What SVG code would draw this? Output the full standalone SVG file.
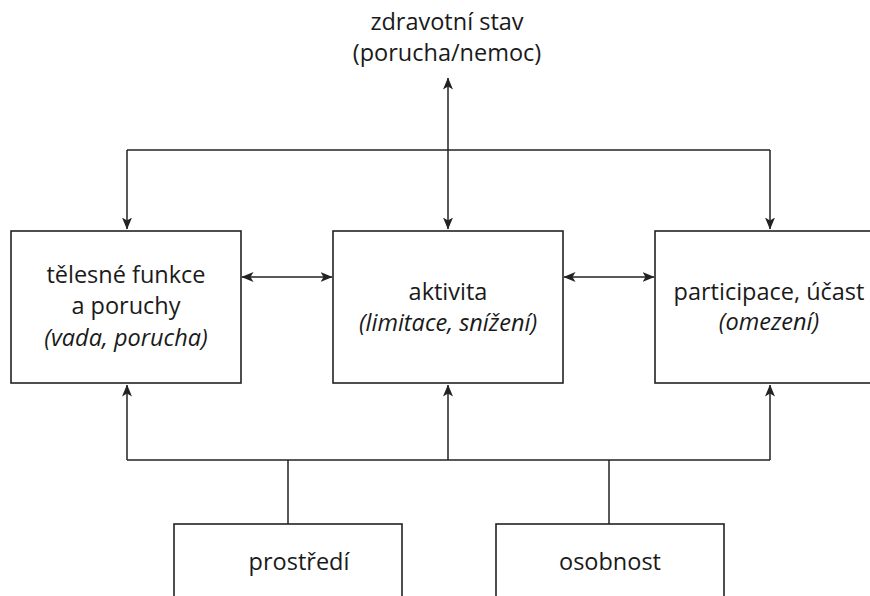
<svg xmlns="http://www.w3.org/2000/svg" width="870" height="596" viewBox="0 0 870 596">
<style>
.box{fill:#fff;stroke:#222;stroke-width:1.6}
.ln{fill:none;stroke:#222;stroke-width:1.5}
text{font-family:"Open Sans","DejaVu Sans",sans-serif;font-size:23.5px;fill:#1a1a1a;text-anchor:middle}
.it{font-style:italic}
</style>
<defs>
<marker id="ah" viewBox="0 0 12 10" refX="11.5" refY="5" markerWidth="12" markerHeight="10" markerUnits="userSpaceOnUse" orient="auto-start-reverse">
<path d="M0,0 L12,5 L0,10 L3,5 Z" fill="#222"/>
</marker>
</defs>
<rect width="870" height="596" fill="#fff"/>
<g id="connectors">
<line class="ln" x1="127" y1="150" x2="770" y2="150"/>
<line class="ln" x1="127" y1="150" x2="127" y2="229" marker-end="url(#ah)"/>
<line class="ln" x1="770" y1="150" x2="770" y2="229" marker-end="url(#ah)"/>
<line class="ln" x1="448" y1="78" x2="448" y2="229" marker-start="url(#ah)" marker-end="url(#ah)"/>
<line class="ln" x1="242" y1="277" x2="332" y2="277" marker-start="url(#ah)" marker-end="url(#ah)"/>
<line class="ln" x1="564" y1="277" x2="654" y2="277" marker-start="url(#ah)" marker-end="url(#ah)"/>
<line class="ln" x1="127" y1="460" x2="770" y2="460"/>
<line class="ln" x1="127" y1="460" x2="127" y2="385" marker-end="url(#ah)"/>
<line class="ln" x1="448" y1="460" x2="448" y2="385" marker-end="url(#ah)"/>
<line class="ln" x1="770" y1="460" x2="770" y2="385" marker-end="url(#ah)"/>
<line class="ln" x1="288" y1="460" x2="288" y2="524"/>
<line class="ln" x1="609" y1="460" x2="609" y2="524"/>
</g>
<g id="zdravotni-stav">
<text x="447" y="30">zdravotní stav</text>
<text x="447" y="61">(porucha/nemoc)</text>
</g>
<g id="telesne-funkce">
<rect class="box" x="11" y="231" width="230" height="152"/>
<text x="126" y="283">tělesné funkce</text>
<text x="126" y="314">a poruchy</text>
<text x="126" y="346" class="it">(vada, porucha)</text>
</g>
<g id="aktivita">
<rect class="box" x="333" y="231" width="230" height="152"/>
<text x="448" y="300">aktivita</text>
<text x="448" y="331" class="it">(limitace, snížení)</text>
</g>
<g id="participace">
<rect class="box" x="655" y="231" width="230" height="152"/>
<text x="769" y="300">participace, účast</text>
<text x="769" y="330" class="it">(omezení)</text>
</g>
<g id="prostredi">
<rect class="box" x="174" y="524" width="228" height="90"/>
<text x="299" y="570">prostředí</text>
</g>
<g id="osobnost">
<rect class="box" x="496" y="524" width="228" height="90"/>
<text x="610" y="570">osobnost</text>
</g>
</svg>
